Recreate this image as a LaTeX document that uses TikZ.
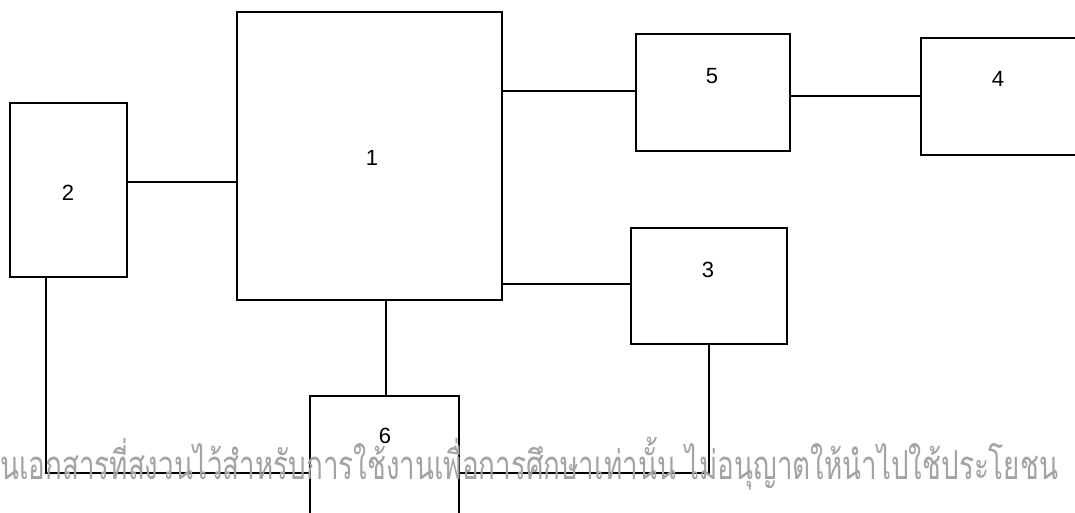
\documentclass[tikz,border=0pt]{standalone}
\usepackage{fontspec}
\setmainfont{Liberation Sans}
\newfontfamily\thaifont[Script=Thai]{Loma}
\begin{document}
\begin{tikzpicture}[x=1pt,y=-1pt,
  blk/.style={draw=black,line width=1.6pt},
  lbl/.style={font=\fontsize{22}{22}\selectfont},
  wire/.style={draw=black,line width=1.6pt}]
\useasboundingbox (0,0) rectangle (1075,513);
\begin{scope}
\clip (0,0) rectangle (1075,513);
\fill[white] (0,0) rectangle (1075,513);
% boxes
\draw[blk] (10,103) rectangle (127,277);
\draw[blk] (237,12) rectangle (502,300);
\draw[blk] (636,34) rectangle (790,151);
\draw[blk] (921,38) rectangle (1090,155);
\draw[blk] (631,228) rectangle (787,344);
\draw[blk] (310,396) rectangle (459,530);
\end{scope}
\node[lbl] (n2) at (68,193) {2};
\node[lbl] (n1) at (372,158) {1};
\node[lbl] (n5) at (712,76) {5};
\node[lbl] (n4) at (998,79) {4};
\node[lbl] (n3) at (708,270) {3};
\node[lbl] (n6) at (385,436) {6};
% connectors
\coordinate (c21a) at (127,182); \coordinate (c21b) at (237,182);
\coordinate (c15a) at (502,91); \coordinate (c15b) at (636,91);
\coordinate (c54a) at (790,96); \coordinate (c54b) at (921,96);
\coordinate (c13a) at (502,284); \coordinate (c13b) at (631,284);
\coordinate (c16a) at (386,300); \coordinate (c16b) at (386,396);
\coordinate (c26a) at (46,277); \coordinate (c26b) at (46,473); \coordinate (c26c) at (310,473);
\coordinate (c36a) at (709,344); \coordinate (c36b) at (709,473); \coordinate (c36c) at (459,473);
\draw[wire] (c21a) -- (c21b);
\draw[wire] (c15a) -- (c15b);
\draw[wire] (c54a) -- (c54b);
\draw[wire] (c13a) -- (c13b);
\draw[wire] (c16a) -- (c16b);
\draw[wire] (c26a) -- (c26b) -- (c26c);
\draw[wire] (c36a) -- (c36b) -- (c36c);
% watermark
\node[anchor=base west,text=black!36,inner sep=0pt,xscale=0.695,font=\thaifont\fontsize{40}{40}\selectfont] (wm) at (0,479) {นเอกสารที่สงวนไว้สำหรับการใช้งานเพื่อการศึกษาเท่านั้น ไม่อนุญาตให้นำไปใช้ประโยชน};
\end{tikzpicture}
\end{document}
